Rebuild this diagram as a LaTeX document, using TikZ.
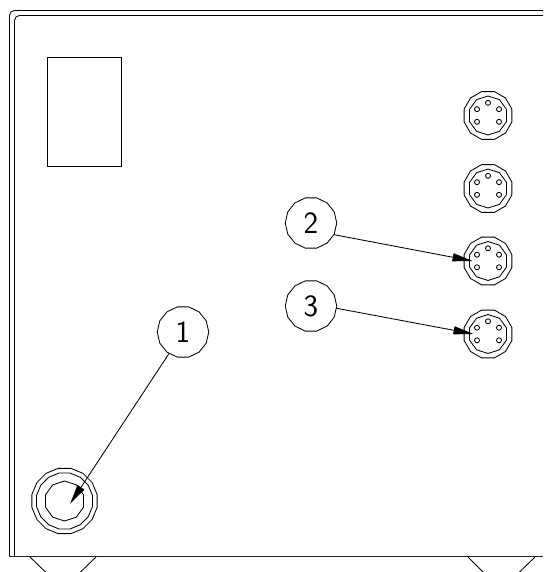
\documentclass[tikz,border=0pt]{standalone}
\usetikzlibrary{shapes.geometric,arrows.meta}
\tikzset{
  ln/.style={line width=0.85pt,black},
  poly/.style={ln,draw,regular polygon,inner sep=0pt,outer sep=0pt},
  balloon/.style={poly,regular polygon sides=14,minimum size=51.5pt,font=\sffamily\fontsize{31}{31}\selectfont},
  ringouter/.style={poly,regular polygon sides=12,minimum size=49.5pt},
  ringinner/.style={poly,regular polygon sides=10,minimum size=39pt,shape border rotate=18},
  ringgland/.style={poly,regular polygon sides=10,minimum size=40pt,shape border rotate=18},
  pin/.style={ln,draw,circle,minimum size=5pt,inner sep=0pt,outer sep=0pt},
  leader/.style={ln,-{Triangle[length=20pt,width=8pt]}},
}
\newcommand{\socket}[3]{%
  \node[ringouter] (#1o) at (#2,#3) {};
  \node[ringinner] (#1i) at (#2,#3) {};
  \coordinate (#1c) at (#2,#3);
  \node[pin] (#1p1) at (#2,#3-12.7) {};
  \node[pin] (#1p2) at (#2-11,#3-6.3) {};
  \node[pin] (#1p3) at (#2+11,#3-6.3) {};
  \node[pin] (#1p4) at (#2-11,#3+6.3) {};
  \node[pin] (#1p5) at (#2+11,#3+6.3) {};
}
\begin{document}
\begin{tikzpicture}[x=1pt,y=-1pt]
\useasboundingbox (0,0) rectangle (543,572);
\fill[white] (0,0) rectangle (543,572);
% housing
\draw[ln,rounded corners=5pt] (543,10.5) -- (9.5,10.5) -- (9.5,556);
\draw[ln,rounded corners=5pt] (543,15.5) -- (14.5,15.5) -- (14.5,556);
\draw[line width=1.2pt,black!85] (9,556.5) -- (543,556.5);
% feet
\draw[ln] (30,557) -- (46,572.5) (96,557) -- (80,572.5);
\draw[ln] (468,557) -- (483.5,572.5) (535,557) -- (519,572.5);
% window
\node[ln,draw,rectangle,inner sep=0pt,outer sep=0pt,minimum width=74pt,minimum height=109pt] (win) at (84,111.5) {};
% sockets
\socket{a}{488}{115.5}
\socket{b}{488}{188.5}
\socket{c}{488}{261}
\socket{d}{488}{334}
% large gland
\node[poly,regular polygon sides=16,minimum size=66.5pt] (g1) at (64.5,501) {};
\node[poly,regular polygon sides=16,minimum size=57pt] (g2) at (64.5,501) {};
\node[ringgland] (g3) at (64.5,501) {};
\coordinate (gt) at (70,504);
\coordinate (ct) at (472.5,261);
\coordinate (dt) at (473.5,334);
% balloons
\node[balloon] (n1) at (183,332) {1};
\node[balloon] (n2) at (311,223) {2};
\node[balloon] (n3) at (311,306) {3};
% leaders
\draw[leader] (n1.-123) -- (gt);
\draw[leader] (n2.-27) -- (ct);
\draw[leader] (n3.-5) -- (dt);
\end{tikzpicture}
\end{document}
